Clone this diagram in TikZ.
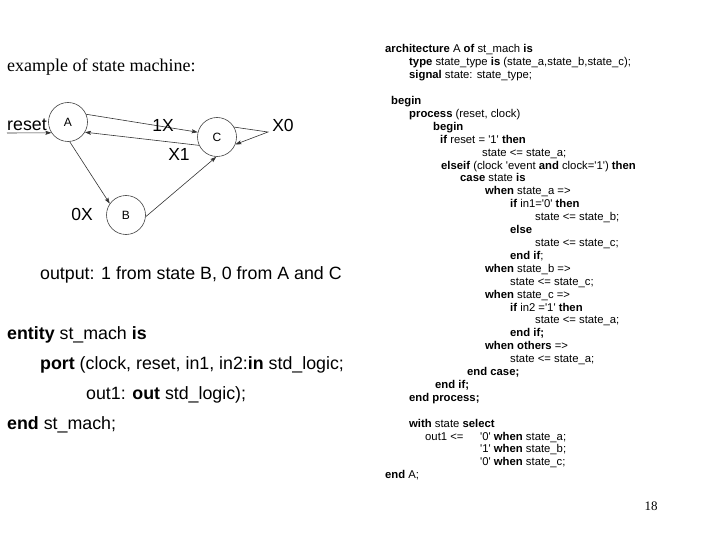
\documentclass[tikz,border=0pt]{standalone}
\usepackage{fontspec}
\setmainfont{Liberation Sans}
\newfontfamily\serifface{Liberation Serif}
\usetikzlibrary{arrows.meta}
\newcommand\qq{\textquotesingle}
\tikzset{
  code/.style={anchor=base west, inner sep=0pt, font=\fontsize{11.3}{12}\selectfont},
  big/.style={anchor=base west, inner sep=0pt, font=\fontsize{17.8}{20}\selectfont},
  lab/.style={anchor=base, inner sep=0pt, font=\fontsize{17.5}{20}\selectfont},
  stnode/.style={circle, draw=black!75, line width=0.6pt, minimum size=39pt, inner sep=0pt, font=\fontsize{12}{12}\selectfont},
  arr/.style={draw=black!80, line width=0.6pt, -{Stealth[length=6pt,width=4pt,inset=1pt]}},
}
\begin{document}
\begin{tikzpicture}[x=1pt,y=-1pt]
\useasboundingbox (0,0) rectangle (720,540);
% title
\node[anchor=base west, inner sep=0pt, font=\serifface\fontsize{18}{20}\selectfont] (title) at (7,72) {example of state machine:};
% state diagram
\node[stnode] (A) at (68,122) {A};
\node[stnode] (B) at (126,215) {B};
\node[stnode] (C) at (217,137) {C};
\coordinate (rs) at (7,133);
\coordinate (xo) at (268,132);
\node[anchor=base west, inner sep=0pt, font=\fontsize{17.8}{20}\selectfont] (reset) at (7,131) {reset};
\draw[arr] (rs) -- (A.213);
\draw[arr] (A.23) -- (C.166);
\draw[arr] (C.205) -- (A.329);
\draw[arr] (C.30) -- (xo) -- (C.-22);
\draw[arr] (A.-85) -- (B.145);
\draw[arr] (B.-5) -- (C.-92);
\node[lab] (l1x) at (163,132) {1X};
\node[lab] (lx0) at (283,132) {X0};
\node[lab] (lx1) at (179,161) {X1};
\node[lab] (l0x) at (82,221) {0X};
% left text
\node[big] (out) at (40,279) {output: 1 from state B, 0 from A and C};
\node[big] (ent) at (7,339) {\textbf{entity} st\_mach \textbf{is}};
\node[big] (port) at (40,369) {\textbf{port} (clock, reset, in1, in2:\textbf{in} std\_logic;};
\node[big] (out1) at (86,399) {out1: \textbf{out} std\_logic);};
\node[big] (endm) at (7,429) {\textbf{end} st\_mach;};
% code
\node[code] (c1) at (385,53.0) {\textbf{architecture} A \textbf{of} st\_mach \textbf{is}};
\node[code] (c2) at (409,65.9) {\textbf{type} state\_type \textbf{is} (state\_a,state\_b,state\_c);};
\node[code] (c3) at (409,78.8) {\textbf{signal} state: state\_type;};
\node[code] (c5) at (391,104.6) {\textbf{begin}};
\node[code] (c6) at (409,117.5) {\textbf{process} (reset, clock)};
\node[code] (c7) at (433,130.4) {\textbf{begin}};
\node[code] (c8) at (440,143.3) {\textbf{if} reset = \qq1\qq{} \textbf{then}};
\node[code] (c9) at (482,156.2) {state <= state\_a;};
\node[code] (c10) at (441,169.1) {\textbf{elseif} (clock \qq event \textbf{and} clock=\qq1\qq) \textbf{then}};
\node[code] (c11) at (460,182.0) {\textbf{case} state \textbf{is}};
\node[code] (c12) at (485,194.9) {\textbf{when} state\_a =>};
\node[code] (c13) at (510,207.8) {\textbf{if} in1=\qq0\qq{} \textbf{then}};
\node[code] (c14) at (535,220.7) {state <= state\_b;};
\node[code] (c15) at (510,233.6) {\textbf{else}};
\node[code] (c16) at (535,246.5) {state <= state\_c;};
\node[code] (c17) at (510,259.4) {\textbf{end if};};
\node[code] (c18) at (485,272.3) {\textbf{when} state\_b =>};
\node[code] (c19) at (510,285.2) {state <= state\_c;};
\node[code] (c20) at (485,298.1) {\textbf{when} state\_c =>};
\node[code] (c21) at (510,311.0) {\textbf{if} in2 =\qq1\qq{} \textbf{then}};
\node[code] (c22) at (535,323.9) {state <= state\_a;};
\node[code] (c23) at (510,336.8) {\textbf{end if;}};
\node[code] (c24) at (485,349.7) {\textbf{when others} =>};
\node[code] (c25) at (510,362.6) {state <= state\_a;};
\node[code] (c26) at (467,375.5) {\textbf{end case;}};
\node[code] (c27) at (435,388.4) {\textbf{end if;}};
\node[code] (c28) at (409,401.3) {\textbf{end process;}};
\node[code] (c30) at (409,427.1) {\textbf{with} state \textbf{select}};
\node[code] (c31) at (425,440.0) {out1 <=};
\node[code] (c31b) at (480,440.0) {\qq0\qq{} \textbf{when} state\_a;};
\node[code] (c32) at (480,452.9) {\qq1\qq{} \textbf{when} state\_b;};
\node[code] (c33) at (480,465.8) {\qq0\qq{} \textbf{when} state\_c;};
\node[code] (c34) at (385,478.7) {\textbf{end} A;};
% page number
\node[anchor=base, inner sep=0pt, font=\serifface\fontsize{13}{14}\selectfont] (pg) at (651,510) {18};
\end{tikzpicture}
\end{document}
